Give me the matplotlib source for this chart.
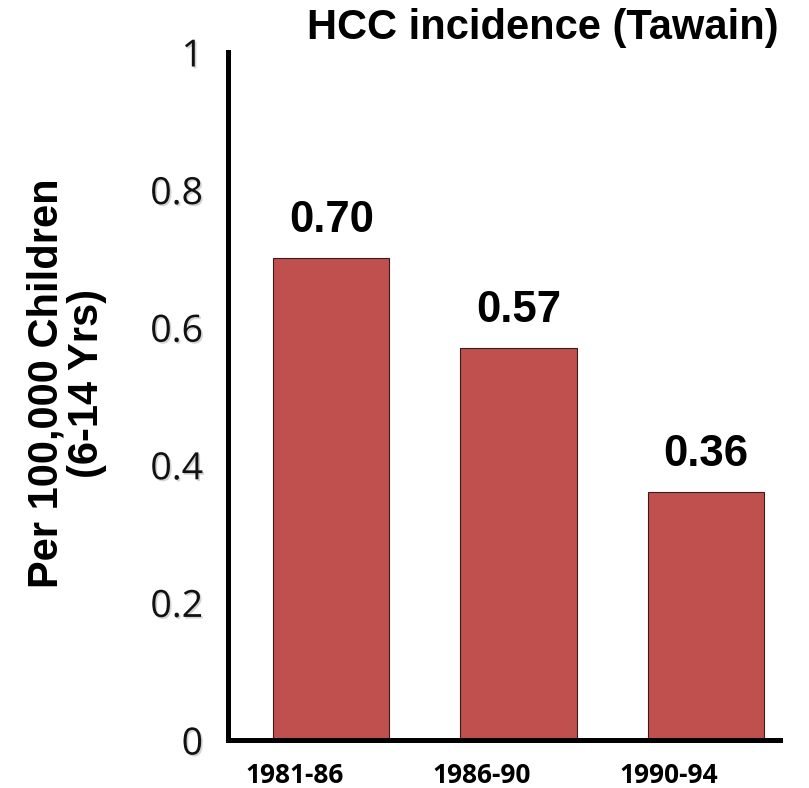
import matplotlib
matplotlib.use("Agg")
import matplotlib.pyplot as plt
import matplotlib.patheffects as pe
from matplotlib.transforms import ScaledTranslation

# data
periods = ["1981-86", "1986-90", "1990-94"]
incidence = [0.70, 0.57, 0.36]
yticks = [0, 0.2, 0.4, 0.6, 0.8, 1]
ytick_labels = ["0", "0.2", "0.4", "0.6", "0.8", "1"]

fig = plt.figure(figsize=(8.09, 7.88), dpi=100)
ax = fig.add_axes([228 / 809, 48 / 788, 552 / 809, 688 / 788])

x = range(len(periods))
ax.bar(x, incidence, width=0.62, color="#C0504D", edgecolor="#3a1a1a", linewidth=0.8)

for xi, v in zip(x, incidence):
    ax.text(xi, v + 0.025, "%.2f" % v, ha="center", va="bottom",
            fontsize=31.5, fontweight="bold", family="Liberation Sans")

ax.set_xlim(-0.551, 2.396)
ax.set_ylim(0, 1)

ax.set_yticks(yticks)
ax.set_yticklabels(ytick_labels, fontsize=27, family="Open Sans", color="#111111")
for lab in ax.get_yticklabels():
    lab.set_path_effects([pe.withSimplePatchShadow(offset=(1.2, -1.2), shadow_rgbFace="#aaaaaa", alpha=0.5)])
ax.tick_params(axis="y", length=0, pad=18)

ax.set_xticks(list(x))
ax.set_xticklabels(periods, fontsize=19, fontweight="bold", family="Open Sans")
ax.tick_params(axis="x", length=0, pad=16)
off = ScaledTranslation(-0.37, 0, fig.dpi_scale_trans)
for lab in ax.get_xticklabels():
    lab.set_transform(lab.get_transform() + off)

for s in ["top", "right"]:
    ax.spines[s].set_visible(False)
for s in ["left", "bottom"]:
    ax.spines[s].set_linewidth(3.6)
    ax.spines[s].set_color("black")

fig.text(543 / 809, 1 - 28 / 788, "HCC incidence (Tawain)", ha="center", va="center",
         fontsize=30, fontweight="bold", family="Liberation Sans")
fig.text(67 / 809, 1 - 383 / 788, "Per 100,000 Children\n(6-14 Yrs)", ha="center", va="center",
         rotation=90, fontsize=30, fontweight="bold", family="Liberation Sans", linespacing=1.0)

fig.savefig("out.png", dpi=100)
